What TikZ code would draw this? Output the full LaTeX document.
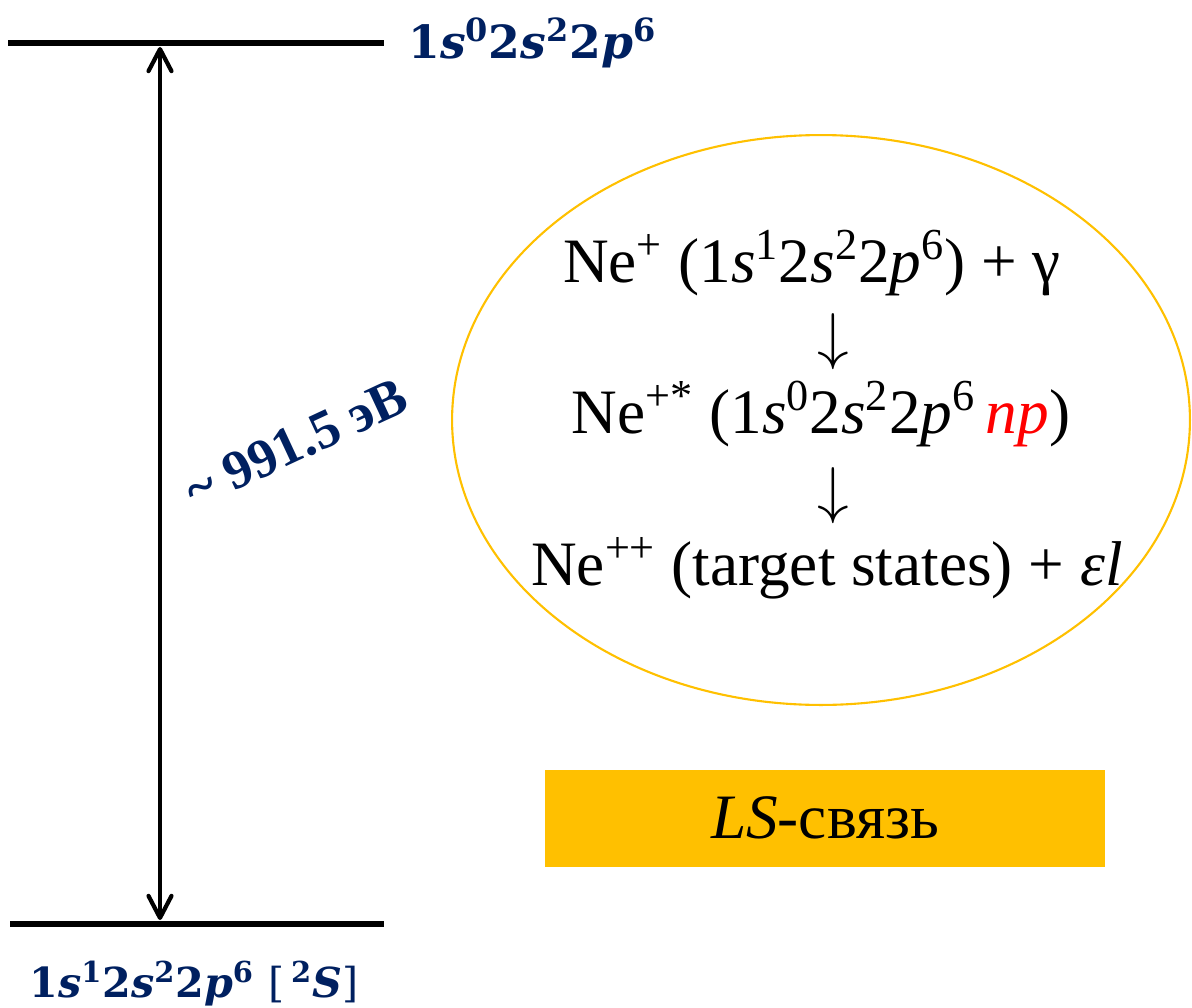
\RequirePackage{fix-cm}
\documentclass[tikz,border=0pt]{standalone}
\usepackage{fontspec}
\setmainfont{Liberation Serif}
\newfontfamily\lvlfont{DejaVu Serif}
\usetikzlibrary{arrows.meta,positioning,shapes.geometric}
\definecolor{lvlnavy}{RGB}{0,32,96}
\definecolor{ringgold}{RGB}{255,192,0}

\begin{document}
\begin{tikzpicture}[
  x=0.02cm, y=-0.02cm,
  level/.style={line width=3.8pt},
  gap/.style={{Straight Barb[length=4.4mm,width=4.6mm,line width=2.4pt,round]}-{Straight Barb[length=4.4mm,width=4.6mm,line width=2.4pt,round]}, line width=2.2pt},
  cfg/.style={font=\lvlfont\bfseries\fontsize{26}{30}\selectfont, text=lvlnavy, inner sep=0pt},
  proc/.style={font=\fontsize{36}{42}\selectfont, inner sep=0pt, anchor=base},
  down/.style={font=\fontsize{36}{36}\selectfont, inner sep=0pt},
  node distance=0.5cm
]
\useasboundingbox (0,0) rectangle (1192,1007);

% energy levels
\coordinate (upL) at (8,43);
\coordinate (upR) at (384,43);
\coordinate (loL) at (10,924);
\coordinate (loR) at (384,924);
\coordinate (upA) at (160,47);
\coordinate (loA) at (160,920);
\draw[level] (upL) -- (upR);
\draw[level] (loL) -- (loR);
\draw[gap] (upA) -- (loA);

\node[cfg, right=0.48cm of upR] (upper) {1\textit{s}\textsuperscript{0}2\textit{s}\textsuperscript{2}2\textit{p}\textsuperscript{6}};
\node[cfg, font=\lvlfont\bfseries\fontsize{23.5}{28}\selectfont, anchor=base west] (lower) at (29,997) {1\textit{s}\textsuperscript{1}2\textit{s}\textsuperscript{2}2\textit{p}\textsuperscript{6} {\mdseries[}\,\textsuperscript{2}\textit{S}{\mdseries]}};
\node[rotate=25, font=\bfseries\fontsize{31}{36}\selectfont, text=lvlnavy] (gapval) at (296,443) {\textasciitilde{} 991.5 эВ};

% Auger scheme
\node[draw=ringgold, line width=1.2pt, ellipse, minimum width=14.76cm, minimum height=11.4cm] (ring) at (821,420) {};
\node[proc] (ion) at (812,282) {Ne\textsuperscript{+} (1\textit{s}\textsuperscript{1}2\textit{s}\textsuperscript{2}2\textit{p}\textsuperscript{6}) + γ};
\node[down] (d1) at (833,342) {$\downarrow$};
\node[proc] (exc) at (821,433) {Ne\textsuperscript{+*} (1\textit{s}\textsuperscript{0}2\textit{s}\textsuperscript{2}2\textit{p}\textsuperscript{6}\,\textcolor{red}{\textit{np}})};
\node[down] (d2) at (833,496) {$\downarrow$};
\node[proc] (fin) at (827,585) {Ne\textsuperscript{++} (target states) + \textit{εl}};

\node[proc, anchor=center, fill=ringgold, minimum width=11.2cm, minimum height=1.94cm] (coupling) at (825,818) {\textit{LS}-связь};
\end{tikzpicture}
\end{document}
